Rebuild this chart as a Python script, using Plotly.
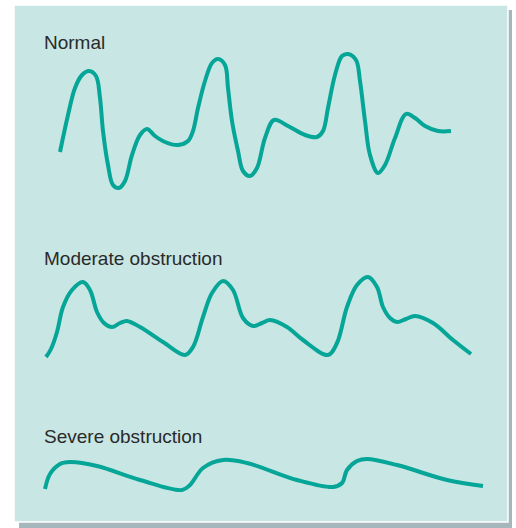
import plotly.graph_objects as go

# --- data: time samples (arbitrary units) and signal level readings for each waveform ---
labels = ["Normal", "Moderate obstruction", "Severe obstruction"]

normal_t = [60, 68, 75, 82, 89, 96, 100, 103, 108, 113, 119, 125, 132, 140, 147, 155, 165,
            178, 188, 193, 198, 205, 212, 218, 225, 228, 232, 238, 243, 250, 257, 265, 274,
            288, 305, 317, 323, 328, 335, 342, 348, 356, 360, 365, 370, 378, 385, 395, 406,
            415, 425, 438, 451]
normal_y = [152, 115, 88, 75, 71, 76, 98, 131, 165, 185, 188, 181, 155, 135, 129, 136, 142,
            145, 141, 131, 108, 81, 63, 59, 65, 88, 121, 151, 171, 176, 168, 138, 120,
            126, 135, 137, 131, 108, 75, 56, 54, 60, 81, 121, 155, 173, 165, 138, 114,
            118, 126, 131, 131]

moderate_t = [46, 51, 57, 63, 72, 83, 90, 97, 104, 112, 120, 127, 140, 163, 185, 193, 203, 212,
              223, 233, 243, 253, 262, 270, 287, 303, 328, 337, 347, 357, 368, 377, 383, 390,
              397, 406, 415, 433, 453, 471]
moderate_y = [357, 349, 332, 307, 290, 282, 290, 312, 323, 327, 323, 321, 327, 342, 355, 347,
              317, 293, 281, 290, 318, 326, 323, 320, 327, 340, 355, 343, 307, 285, 277, 287,
              307, 318, 322, 319, 316, 323, 340, 354]

severe_t = [45, 50, 60, 70, 97, 140, 182, 190, 203, 223, 247, 297, 333, 342, 347, 357, 367,
            397, 447, 483]
severe_y = [489, 474, 464, 462, 466, 480, 490, 485, 468, 460, 463, 480, 487, 483, 470, 461,
            459, 465, 480, 486]

# band rows (top, bottom) used to turn readings into upward signal level
bands = [(40, 200), (260, 370), (445, 500)]

W, H = 516, 528
LINE = "#05a597"
PANEL = "#c8e6e3"
SHADOW = "#a5b6bc"
TEXT = "#2a2a2a"

fig = go.Figure()

series = [(normal_t, normal_y), (moderate_t, moderate_y), (severe_t, severe_y)]
for i, ((t, y), (top, bot)) in enumerate(zip(series, bands)):
    level = [bot - v for v in y]
    fig.add_trace(go.Scatter(
        x=t, y=level, mode="lines",
        line=dict(color=LINE, width=4, shape="spline", smoothing=1.0),
        xaxis="x", yaxis="y" if i == 0 else f"y{i+1}",
        hoverinfo="skip", showlegend=False,
    ))

def ydom(top, bot):
    return [1 - bot / H, 1 - top / H]

layout_axes = {}
for i, (top, bot) in enumerate(bands):
    key = "yaxis" if i == 0 else f"yaxis{i+1}"
    layout_axes[key] = dict(domain=ydom(top, bot), range=[0, bot - top], visible=False,
                            fixedrange=True, anchor="x")

fig.update_layout(
    width=W, height=H,
    margin=dict(l=0, r=0, t=0, b=0),
    paper_bgcolor="white", plot_bgcolor="rgba(0,0,0,0)",
    xaxis=dict(domain=[0, 1], range=[0, W], visible=False, fixedrange=True),
    **layout_axes,
)

# panel with drop shadow
fig.add_shape(type="rect", xref="paper", yref="paper",
              x0=19 / W, x1=512 / W, y0=1 - 528 / H, y1=1 - 10 / H,
              fillcolor=SHADOW, line=dict(width=0), layer="below")
fig.add_shape(type="rect", xref="paper", yref="paper",
              x0=14 / W, x1=508 / W, y0=1 - 522 / H, y1=1 - 5 / H,
              fillcolor=PANEL, line=dict(color="white", width=1.5), layer="below")

label_pos = [43, 258, 436]
for lab, yy in zip(labels, label_pos):
    fig.add_annotation(text=lab, xref="paper", yref="paper",
                       x=42 / W, y=1 - yy / H, xanchor="left", yanchor="middle",
                       showarrow=False,
                       font=dict(family="Liberation Sans, Arial, sans-serif", size=19, color=TEXT))

fig.write_html("out.html", config={"displayModeBar": False},
               post_script="document.body.style.margin='0';document.body.style.overflow='hidden';")
